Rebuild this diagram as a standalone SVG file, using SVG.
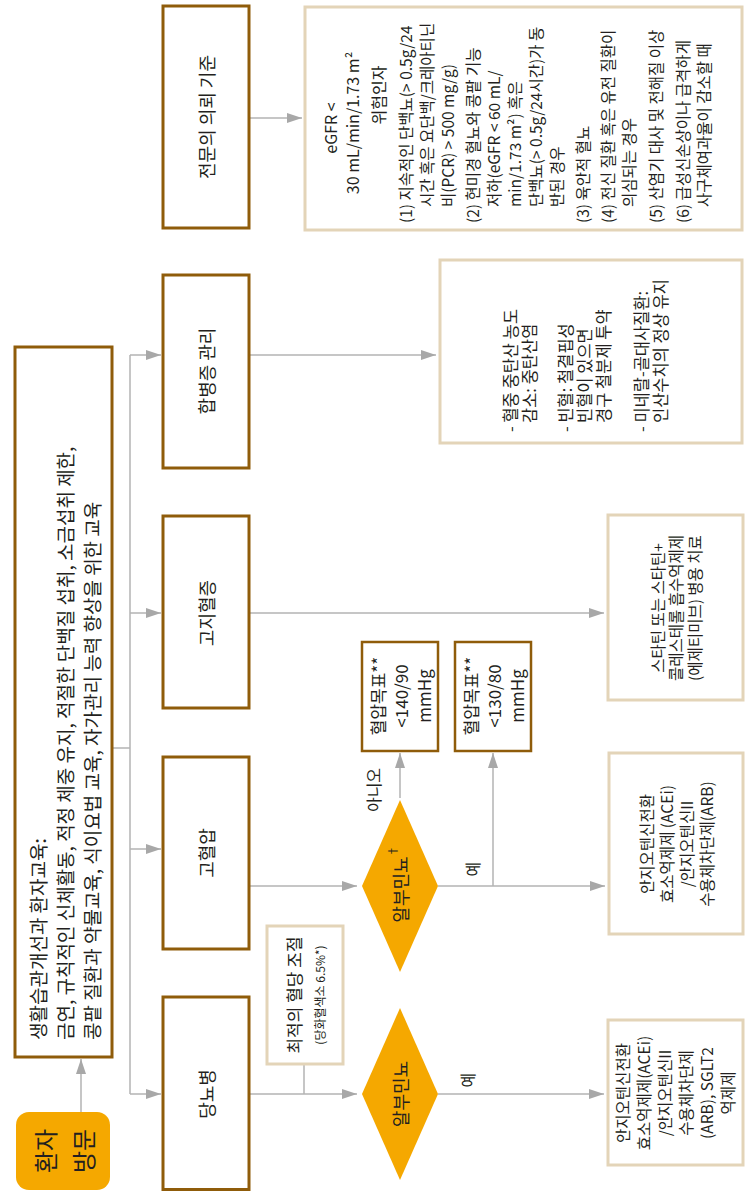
<svg xmlns="http://www.w3.org/2000/svg" width="745" height="1191" viewBox="0 0 745 1191">
<defs>
<marker id="ah" markerUnits="userSpaceOnUse" markerWidth="15" markerHeight="10" refX="15" refY="5" orient="auto"><path d="M0,0 L15,5 L0,10 z" fill="#A8A8A8"/></marker>
<style>
text{font-family:"Noto Sans CJK KR","Noto Sans",sans-serif;fill:#231F20;dominant-baseline:central}
.m{text-anchor:middle}
.main{fill:#fff;stroke:#8F5C0A;stroke-width:3}
.main2{fill:#fff;stroke:#8F5C0A;stroke-width:2.5}
.tan{fill:#fff;stroke:#E3D4B8;stroke-width:3}
.org{fill:#F5A800}
.c{fill:none;stroke:#B3B3B3;stroke-width:1.5}
.ca{fill:none;stroke:#B3B3B3;stroke-width:1.5;marker-end:url(#ah)}
.lbl{font-size:18px}
.s15{font-size:15.5px}
.s16{font-size:16px}
.cp{font-size:16.5px}
.lst{font-size:15.5px}
</style>
</defs>
<rect width="745" height="1191" fill="#fff"/>
<g transform="translate(0,1191) rotate(-90)">
<g id="connectors">
<path class="c" d="M443,112 V130"/>
<path class="c" d="M97,130 H836"/>
<path class="ca" d="M97,130 V161"/>
<path class="ca" d="M342,130 V161"/>
<path class="ca" d="M578,130 V161"/>
<path class="ca" d="M836,130 V161"/>
<path class="ca" d="M40,81 H132"/>
<path class="ca" d="M97,249 V357"/>
<path class="c" d="M97,304 H127"/>
<path class="ca" d="M97,438 V604"/>
<path class="ca" d="M305,249 V357"/>
<path class="ca" d="M393,400 H438"/>
<path class="ca" d="M305,438 V605"/>
<path class="ca" d="M305,493 H438"/>
<path class="ca" d="M578,249 V604"/>
<path class="ca" d="M836,249 V436"/>
<path class="ca" d="M1073,249 V302"/>
<text class="s16 m" x="111" y="467">예</text>
<text class="s16 m" x="322" y="472">예</text>
<text class="s16 m" x="401" y="373">아니오</text>
</g>
<g id="visit">
<rect class="org" x="1" y="16" width="78" height="94" rx="13"/>
<text class="m" x="40" y="44" font-size="24">환자</text>
<text class="m" x="40" y="82" font-size="24">방문</text>
</g>
<g id="lifestyle">
<rect class="main" x="134" y="15" width="710" height="97"/>
<text x="151" y="37" font-size="19">생활습관개선과 환자교육:</text>
<text x="151" y="64" font-size="19">금연, 규칙적인 신체활동, 적정 체중 유지, 적절한 단백질 섭취, 소금섭취 제한,</text>
<text x="151" y="91" font-size="19">콩팥 질환과 약물교육, 식이요법 교육, 자가관리 능력 향상을 위한 교육</text>
</g>
<g id="dm">
<rect class="main" x="1.5" y="163" width="192.5" height="86"/>
<text class="lbl m" x="97" y="206">당뇨병</text>
</g>
<g id="htn">
<rect class="main" x="242" y="163" width="192" height="86"/>
<text class="lbl m" x="338" y="206">고혈압</text>
</g>
<g id="lipid">
<rect class="main" x="483" y="163" width="192" height="86"/>
<text class="lbl m" x="578" y="206">고지혈증</text>
</g>
<g id="comp">
<rect class="main" x="723" y="163" width="193" height="86"/>
<text class="lbl m" x="820" y="206">합병증 관리</text>
</g>
<g id="referral">
<rect class="main" x="963" y="163" width="222" height="86"/>
<text class="lbl m" x="1074" y="206">전문의 의뢰 기준</text>
</g>
<g id="glucose">
<rect class="tan" x="127" y="267" width="138" height="76"/>
<text class="m" x="196" y="293" font-size="17">최적의 혈당 조절</text>
<text class="m" x="196" y="319" font-size="12">(당화혈색소 6.5%*)</text>
</g>
<g id="alb1">
<polygon class="org" points="11,400 97,362 183,400 97,438"/>
<text class="lbl m" x="97" y="400">알부민뇨</text>
</g>
<g id="alb2">
<polygon class="org" points="219,400 305,362 391,400 305,438"/>
<text class="lbl m" x="307" y="400">알부민뇨<tspan font-size="11" dy="-8">†</tspan></text>
</g>
<g id="bp1">
<rect class="main2" x="440" y="362" width="109" height="76"/>
<text class="m" x="495" y="377" font-size="17">혈압목표**</text>
<text class="m" x="495" y="400" font-size="17">&lt;140/90</text>
<text class="m" x="495" y="423" font-size="17">mmHg</text>
</g>
<g id="bp2">
<rect class="main2" x="440" y="455" width="109" height="76"/>
<text class="m" x="495" y="470" font-size="17">혈압목표**</text>
<text class="m" x="495" y="493" font-size="17">&lt;130/80</text>
<text class="m" x="495" y="516" font-size="17">mmHg</text>
</g>
<g id="drug1">
<rect class="tan" x="26" y="608" width="145" height="135"/>
<text class="s15 m" x="98" y="622">안지오텐신전환</text>
<text class="s15 m" x="98" y="643">효소억제제(ACEi)</text>
<text class="s15 m" x="98" y="664">/안지오텐신II</text>
<text class="s15 m" x="98" y="685">수용체차단제</text>
<text class="s15 m" x="98" y="706">(ARB), SGLT2</text>
<text class="s15 m" x="98" y="727">억제제</text>
</g>
<g id="drug2">
<rect class="tan" x="257" y="609" width="181" height="134"/>
<text class="s15 m" x="347" y="646">안지오텐신전환</text>
<text class="s15 m" x="347" y="666">효소억제제 (ACEi)</text>
<text class="s15 m" x="347" y="686">/안지오텐신II</text>
<text class="s15 m" x="347" y="706">수용체차단제(ARB)</text>
</g>
<g id="statin">
<rect class="tan" x="491" y="608" width="185" height="135"/>
<text class="s15 m" x="583" y="657">스타틴 또는 스타틴+</text>
<text class="s15 m" x="583" y="675">콜레스테롤 흡수억제제</text>
<text class="s15 m" x="583" y="694">(에제티미브) 병용 치료</text>
</g>
<g id="compbox">
<rect class="tan" x="748" y="440" width="183" height="302"/>
<text class="cp" x="759" y="510">- 혈중 중탄산 농도</text>
<text class="cp" x="768" y="529">감소: 중탄산염</text>
<text class="cp" x="759" y="565">- 빈혈: 철결핍성</text>
<text class="cp" x="768" y="584">빈혈이 있으면</text>
<text class="cp" x="768" y="603">경구 철분제 투약</text>
<text class="cp" x="759" y="641">- 미네랄-골대사질환:</text>
<text class="cp" x="768" y="660">인산수치의 정상 유지</text>
</g>
<g id="refbox">
<rect class="tan" x="961" y="305" width="223" height="437"/>
<text class="s16 m" x="1063" y="330">eGFR &lt;</text>
<text class="s16 m" x="1068" y="352">30 mL/min/1.73 m²</text>
<text class="s16 m" x="1096" y="378">위험인자</text>
<text class="lst" x="968" y="405">(1) 지속적인 단백뇨(&gt; 0.5g/24</text>
<text class="lst" x="984" y="426">시간 혹은 요단백/크레아티닌</text>
<text class="lst" x="984" y="447">비(PCR) &gt; 500 mg/g)</text>
<text class="lst" x="968" y="472">(2) 현미경 혈뇨와 콩팥 기능</text>
<text class="lst" x="984" y="493">저하(eGFR &lt; 60 mL/</text>
<text class="lst" x="984" y="514">min/1.73 m²) 혹은</text>
<text class="lst" x="984" y="535">단백뇨(&gt; 0.5g/24시간)가 동</text>
<text class="lst" x="984" y="556">반된 경우</text>
<text class="lst" x="968" y="582">(3) 육안적 혈뇨</text>
<text class="lst" x="968" y="607">(4) 전신 질환 혹은 유전 질환이</text>
<text class="lst" x="984" y="628">의심되는 경우</text>
<text class="lst" x="968" y="655">(5) 산염기 대사 및 전해질 이상</text>
<text class="lst" x="968" y="682">(6) 급성신손상이나 급격하게</text>
<text class="lst" x="984" y="703">사구체여과율이 감소할 때</text>
</g>
</g>
</svg>
